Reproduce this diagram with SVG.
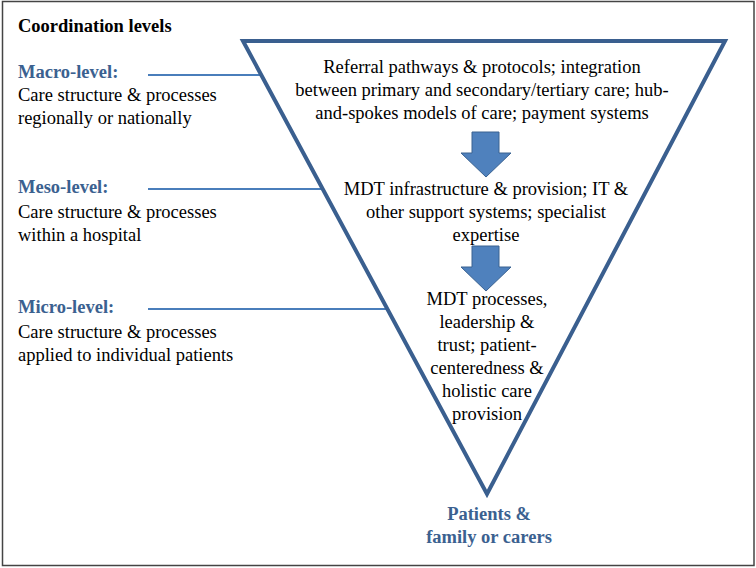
<svg xmlns="http://www.w3.org/2000/svg" width="756" height="568" viewBox="0 0 756 568">
<style>
text{font-family:"Liberation Serif","Times New Roman",serif;font-size:18.5px;fill:#000}
.b{font-weight:bold}
.blue{fill:#3B6190;font-weight:bold}
.c{text-anchor:middle}
.conn{stroke:#4A7EBB;stroke-width:2;fill:none}
.arrow{fill:#4F81BD;stroke:#3A6291;stroke-width:1}
</style>
<rect x="0" y="0" width="756" height="568" fill="#fff"/>
<rect x="2.5" y="1.5" width="751.5" height="564" fill="none" stroke="#444" stroke-width="1.5"/>
<text class="b" x="18" y="32">Coordination levels</text>
<g id="connectors">
<line class="conn" x1="148" y1="75" x2="262" y2="75"/>
<line class="conn" x1="148" y1="189" x2="323" y2="189"/>
<line class="conn" x1="148" y1="309" x2="387" y2="309"/>
</g>
<g id="macro">
<text class="blue" x="18" y="78">Macro-level:</text>
<text x="18" y="101">Care structure &amp; processes</text>
<text x="18" y="124">regionally or nationally</text>
</g>
<g id="meso">
<text class="blue" x="18" y="193">Meso-level:</text>
<text x="18" y="218">Care structure &amp; processes</text>
<text x="18" y="241">within a hospital</text>
</g>
<g id="micro">
<text class="blue" x="18" y="313">Micro-level:</text>
<text x="18" y="338">Care structure &amp; processes</text>
<text x="18" y="361">applied to individual patients</text>
</g>
<g id="triangle">
<polygon points="243,41 725,41 487,494" fill="none" stroke="#3A5F8F" stroke-width="4" stroke-linejoin="miter"/>
</g>
<g id="macro-content">
<text class="c" x="482" y="73">Referral pathways &amp; protocols; integration</text>
<text class="c" x="482" y="96">between primary and secondary/tertiary care; hub-</text>
<text class="c" x="482" y="119">and-spokes models of care; payment systems</text>
</g>
<g id="arrow1">
<polygon class="arrow" points="472,132 499,132 499,153 511,153 486,177 461,153 472,153"/>
</g>
<g id="meso-content">
<text class="c" x="486" y="195">MDT infrastructure &amp; provision; IT &amp;</text>
<text class="c" x="486" y="218">other support systems; specialist</text>
<text class="c" x="486" y="241">expertise</text>
</g>
<g id="arrow2">
<polygon class="arrow" points="472,246 499,246 499,267 511,267 486,291 461,267 472,267"/>
</g>
<g id="micro-content">
<text class="c" x="487" y="305">MDT processes,</text>
<text class="c" x="487" y="328">leadership &amp;</text>
<text class="c" x="487" y="351">trust; patient-</text>
<text class="c" x="487" y="374">centeredness &amp;</text>
<text class="c" x="487" y="397">holistic care</text>
<text class="c" x="487" y="420">provision</text>
</g>
<g id="patients">
<text class="blue c" x="489" y="520">Patients &amp;</text>
<text class="blue c" x="489" y="543">family or carers</text>
</g>
</svg>
